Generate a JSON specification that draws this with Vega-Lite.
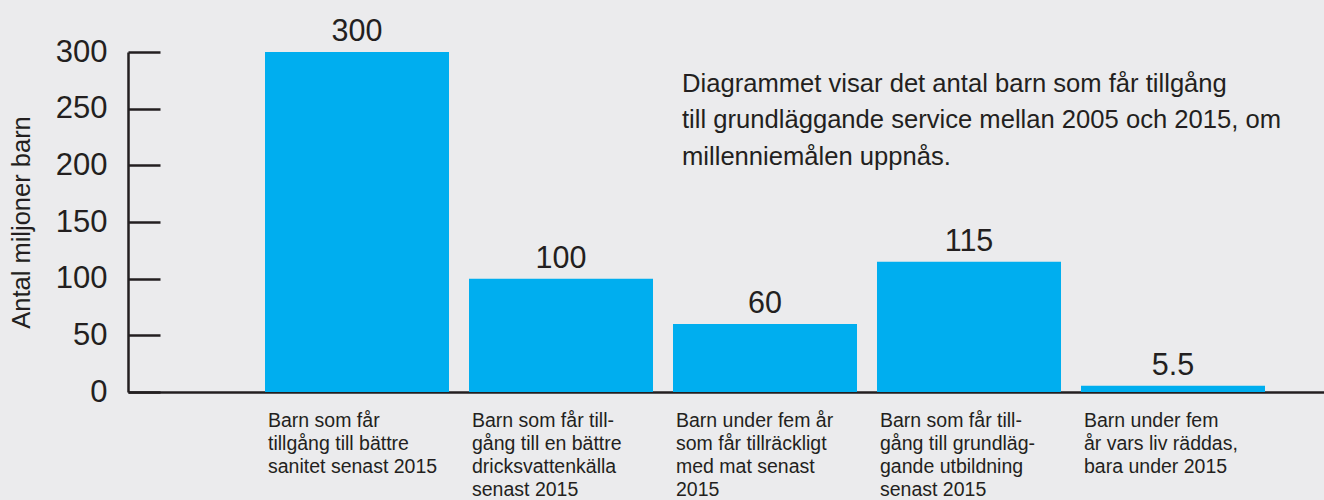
{
  "$schema": "https://vega.github.io/schema/vega-lite/v6.json",
  "width": 1196,
  "height": 340,
  "autosize": {"type": "none"},
  "padding": {"left": 128, "top": 52, "right": 0, "bottom": 108},
  "background": "#ebebed",
  "config": {
    "view": {"stroke": null},
    "font": "Liberation Sans",
    "text": {"font": "Liberation Sans", "color": "#231f20"}
  },
  "layer": [
    {
      "data": {
        "values": [
          {"kategori": "Barn som får|tillgång till bättre|sanitet senast 2015", "barn": 300, "etikett": "300"},
          {"kategori": "Barn som får till-|gång till en bättre|dricksvattenkälla|senast 2015", "barn": 100, "etikett": "100"},
          {"kategori": "Barn under fem år|som får tillräckligt|med mat senast|2015", "barn": 60, "etikett": "60"},
          {"kategori": "Barn som får till-|gång till grundläg-|gande utbildning|senast 2015", "barn": 115, "etikett": "115"},
          {"kategori": "Barn under fem|år vars liv räddas,|bara under 2015", "barn": 5.5, "etikett": "5.5"}
        ]
      },
      "layer": [
        {
          "mark": {"type": "bar", "color": "#00aeef"},
          "encoding": {
            "x": {
              "field": "kategori", "type": "nominal", "sort": null,
              "scale": {"paddingInner": 0.098, "paddingOuter": 0.4804, "align": 0.699},
              "axis": {
                "title": null,
                "domainColor": "#231f20", "domainWidth": 2.5,
                "ticks": false,
                "labelAngle": 0, "labelAlign": "left", "labelBaseline": "alphabetic",
                "labelOffset": -89, "labelPadding": 34,
                "labelFontSize": 19.5, "labelLineHeight": 23.2, "labelColor": "#231f20",
                "labelFont": "Liberation Sans", "labelLimit": 0,
                "labelExpr": "split(datum.label, '|')"
              }
            },
            "y": {
              "field": "barn", "type": "quantitative",
              "scale": {"domain": [0, 300], "nice": false},
              "axis": {
                "title": "Antal miljoner barn",
                "titleFontSize": 25.5, "titleFontWeight": "normal", "titleColor": "#231f20",
                "titleFont": "Liberation Sans", "titlePadding": 21,
                "values": [0, 50, 100, 150, 200, 250, 300],
                "domainColor": "#231f20", "domainWidth": 2.5,
                "tickColor": "#231f20", "tickWidth": 2.5, "tickSize": -32,
                "labelFontSize": 31, "labelColor": "#231f20", "labelFont": "Liberation Sans",
                "labelPadding": 53, "grid": false
              }
            }
          }
        },
        {
          "mark": {"type": "text", "baseline": "alphabetic", "dy": -11, "fontSize": 30.5},
          "encoding": {
            "x": {"field": "kategori", "type": "nominal", "sort": null},
            "y": {"field": "barn", "type": "quantitative"},
            "text": {"field": "etikett"}
          }
        }
      ]
    },
    {
      "data": {
        "values": [
          {"kategori": "Barn under fem år|som får tillräckligt|med mat senast|2015", "niva": 264.7, "text": "Diagrammet visar det antal barn som får tillgång|till grundläggande service mellan 2005 och 2015, om|millenniemålen uppnås."}
        ]
      },
      "mark": {"type": "text", "align": "left", "baseline": "alphabetic", "dx": -83, "fontSize": 25.6, "lineHeight": 36.3, "lineBreak": "|"},
      "encoding": {
        "x": {"field": "kategori", "type": "nominal", "sort": null},
        "y": {"field": "niva", "type": "quantitative"},
        "text": {"field": "text"}
      }
    }
  ]
}
